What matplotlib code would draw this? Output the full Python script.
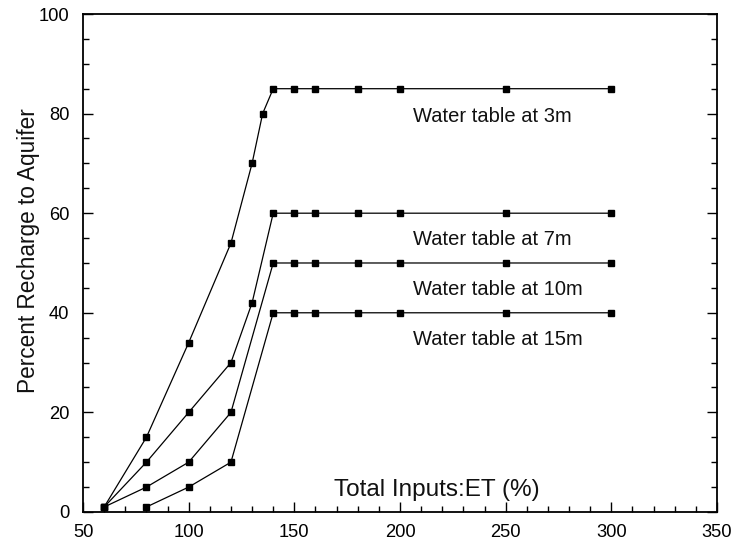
import matplotlib
matplotlib.use("Agg")
import matplotlib.pyplot as plt
from matplotlib.ticker import MultipleLocator

plt.rcParams['font.family'] = ['Liberation Sans', 'DejaVu Sans']

# Data (Total Inputs:ET %, Percent Recharge)
x_3m = [60, 80, 100, 120, 130, 135, 140, 150, 160, 180, 200, 250, 300]
y_3m = [1, 15, 34, 54, 70, 80, 85, 85, 85, 85, 85, 85, 85]

x_7m = [60, 80, 100, 120, 130, 140, 150, 160, 180, 200, 250, 300]
y_7m = [1, 10, 20, 30, 42, 60, 60, 60, 60, 60, 60, 60]

x_10m = [60, 80, 100, 120, 140, 150, 160, 180, 200, 250, 300]
y_10m = [1, 5, 10, 20, 50, 50, 50, 50, 50, 50, 50]

x_15m = [80, 100, 120, 140, 150, 160, 180, 200, 250, 300]
y_15m = [1, 5, 10, 40, 40, 40, 40, 40, 40, 40]

labels = ["Water table at 3m", "Water table at 7m", "Water table at 10m", "Water table at 15m"]
label_y = [79.4, 54.8, 44.6, 34.6]
label_x = 206

x_ticks = [50, 100, 150, 200, 250, 300, 350]
y_ticks = [0, 20, 40, 60, 80, 100]

fig = plt.figure(figsize=(7.38, 5.45), dpi=100)
ax = fig.add_axes([0.1125, 0.0606, 0.859, 0.9137])

for xs, ys in [(x_3m, y_3m), (x_7m, y_7m), (x_10m, y_10m), (x_15m, y_15m)]:
    ax.plot(xs, ys, color='black', lw=0.9, marker='s', markersize=4.5,
            markerfacecolor='black', markeredgecolor='black')

for lab, ly in zip(labels, label_y):
    ax.text(label_x, ly, lab, fontsize=14.5, ha='left', va='center', color='#111111')

ax.text(217.5, 4.4, "Total Inputs:ET (%)", fontsize=17.5, ha='center', va='center',
        color='#111111')

ax.set_xlim(50, 350)
ax.set_ylim(0, 100)
ax.set_xticks(x_ticks)
ax.set_yticks(y_ticks)
ax.xaxis.set_minor_locator(MultipleLocator(10))
ax.yaxis.set_minor_locator(MultipleLocator(5))
ax.tick_params(axis='both', which='major', direction='in', length=7, width=1,
               labelsize=13.2)
ax.tick_params(axis='both', which='minor', direction='in', length=4, width=1)
ax.tick_params(axis='y', which='both', right=True, left=True)
ax.tick_params(axis='x', which='both', top=False, bottom=True)
ax.tick_params(axis='y', which='major', pad=10)
ax.tick_params(axis='x', which='major', pad=9)

for s in ax.spines.values():
    s.set_linewidth(1.3)

ax.set_ylabel("Percent Recharge to Aquifer", fontsize=16.3, color='#111111')
ax.yaxis.set_label_coords(-0.068, 0.525)

fig.savefig("out.png", dpi=100)
